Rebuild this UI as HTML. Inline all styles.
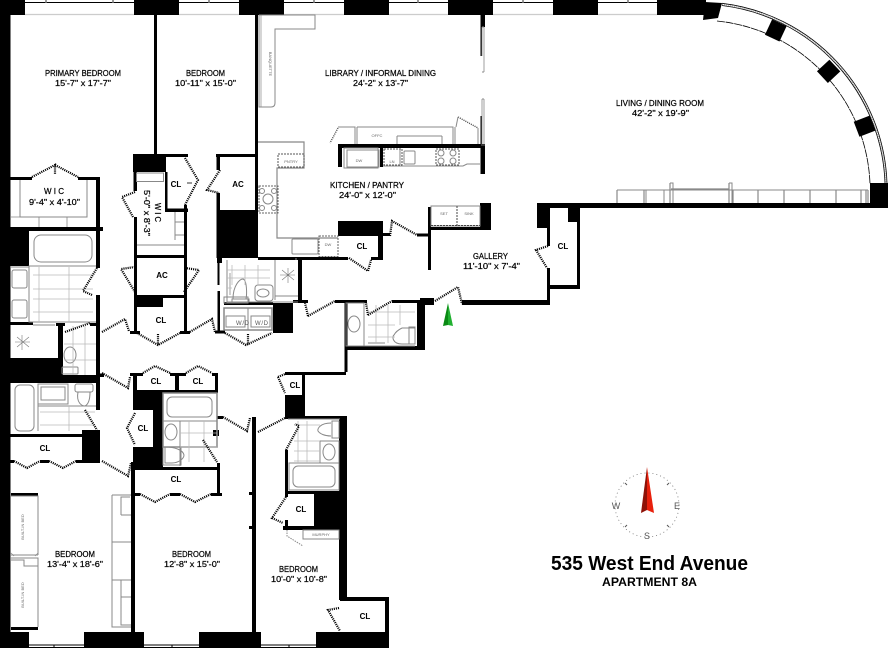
<!DOCTYPE html>
<html><head><meta charset="utf-8"><style>
html,body{margin:0;padding:0;background:#fff}
svg{display:block}
text{font-family:"Liberation Sans",sans-serif;fill:#000}
.l{font-size:8px;stroke:#000;stroke-width:.22}
.c{font-size:8px;font-weight:bold;text-anchor:middle}
.s{font-size:4px;fill:#666;text-anchor:middle}
.g{fill:none;stroke:#888;stroke-width:1}
.gf{fill:#fff;stroke:#888;stroke-width:1}
.t{fill:none;stroke:#bbb;stroke-width:.8}
.d{fill:none;stroke:#000;stroke-width:2.2;stroke-dasharray:1.1 1}
.a{fill:none;stroke:#000;stroke-width:.8}
</style></head><body>
<svg width="888" height="648" viewBox="0 0 888 648" xmlns="http://www.w3.org/2000/svg">
<rect width="888" height="648" fill="#fff"/>

<!-- black walls -->
<path fill="#000" d="
M0 0H25V15H0Z M134 0H179V15H134Z M239 0H284V15H239Z M344 0H389V15H344Z M448 0H493V15H448Z M553 0H598V15H553Z M657 0H706V15H657Z
M0 0H10.500V648H0Z
M154 15H157V155H154Z M255 15H258V215H255Z
M133 154H166V172H133Z M166 154H188V157H166Z M216 154H258V157H216Z
M165 172H167.500V212H165Z M165 208.500H188V212H165Z M184 205H187V257H184Z
M133.500 172H137V191H133.500Z M134 217H137V257H134Z
M216.500 154H220V170H216.500Z M216.500 193H220V258H216.500Z M218 210H258V258H218Z
M217 258H222V263H217Z M217.500 263H219.500V285H217.500Z M217.500 291H220V333H217.500Z M215 330.500H225V333.500H215Z
M10 177H32V180H10Z M78 177H100V180H78Z M96 177H100V268H96Z
M10 227H103V231H10Z M0 231H29V266H0Z
M96 295H100V375H96Z M56 323H65V326H56Z M90 323H100V326H90Z M58 323H63V375H58Z M10 322H33V325H10Z
M0 358H58V383H0Z M58 375H100V383H58Z M100 373.500H104V377H100Z
M96 383H100V410H96Z M96 430H100V434H96Z M82 430H100V462H82Z M10 434H100V437H10Z
M10 460H14V463H10Z M40 460H49V463H40Z M76 460H100V463H76Z
M11 493H38V496H11Z M11 627H38V630H11Z
M131 462H135V632H131Z
M0 632H29V648H0Z M84 632H144V648H84Z M199 632H261V648H199Z M316 632H389V648H316Z
M130 331H140V334H130Z M180 331H190V334H180Z M134 257H137V333H134Z M184 257H187V333H184Z M134 255H187V258H134Z
M135 295H163V307H135Z M163 295H186V298H163Z
M130 373H143V376H130Z M170 373H186V376H170Z M212 373H218V376H212Z M133 373H137V410H133Z M215 373H218V393H215Z M175 376H179V390H175Z
M133 390H218V393H133Z M133 393H163V410H133Z M153 410H163V450H153Z M133 447H163V467H133Z M133 467H220V470H133Z
M217 463H220V493H217Z M213 430H219V436H213Z M217 416H223V419H217Z
M135 493H140V496H135Z M170 493H180V496H170Z M211 493H222V496H211Z
M252 417H256V648H252Z M249 492H252V495H249Z M249 526H252V529H249Z
M285 395H305V419H285Z M285 372H346V375H285Z M302 372H305V395H302Z M285 416H346V419H285Z M285 450H288V497H285Z
M288 491H346V494H288Z M314 494H346V530H314Z M283 526H340V530H283Z M285 520H288V530H285Z
M339 416H347V600H339Z M340 597H389V601H340Z M385 597H389V632H385Z
M344.500 300H347.500V372H344.500Z M345 346H425V350H345Z M417 300H425V350H417Z M420 298H434V305H420Z
M273 303H293V333H273Z M293 300H308V303H293Z M335 300H367V303H335Z M392 300H420V303H392Z
M224 302H273V305H224Z
M298 258H302V300H298Z M258 257H348V260H258Z M371 257H383V260H371Z M378 236H383V260H378Z M338 221H383V236H338Z
M383 233H390V236H383Z M417 233.500H431V236.500H417Z M428 207H431V270H428Z M431 227H491V230H431Z M480 203H491V230H480Z
M462 300H550V305H462Z M547 268H550V302H547Z M547 228H550V246H547Z M537 203H550V228H537Z M568 207H580V222H568Z M577 222H580V289H577Z M547 285H580V289H547Z
M537 203H888V208H537Z M870 183H888V203H870Z
M338 144H485V148H338Z M338 148H342V167H338Z M380 148H383V167H380Z
M480.500 15H485V27H480.500Z M480.500 27H482V56H480.500Z M480.500 116H482V146H480.500Z M480.500 146H485V174H480.500Z
M250 155H256V157H250Z M250 210H256V214H250Z
"/>
<polygon fill="#000" points="705,2 722,3 718,18 703,20"/>
<rect x="768" y="22" width="16" height="17" fill="#000" transform="rotate(25 776 30)"/>
<rect x="821" y="63" width="16" height="17" fill="#000" transform="rotate(47 829 71)"/>
<rect x="857" y="118" width="16" height="17" fill="#000" transform="rotate(69 865 126)"/>

<!-- top windows -->
<g fill="none" stroke="#000" stroke-width=".9">
<path d="M25 2.500H134M179 2.500H239M284 2.500H344M389 2.500H448M493 2.500H553M598 2.500H657"/>
<path d="M46 0V3M113 0V3M209 0V3M314 0V3M418 0V3M523 0V3M628 0V3" stroke="#777" stroke-width="1.500"/>
</g>
<path d="M25 14.500H134M179 14.500H239M284 14.500H344M389 14.500H448M493 14.500H553M598 14.500H657" stroke="#ccc" stroke-width="1.200" fill="none"/>
<!-- bottom windows -->
<path d="M29 645H84M144 645H199M261 645H316" stroke="#000" stroke-width="1" fill="none"/>
<path d="M54 645V648M172 645V648M289 645V648" stroke="#000" stroke-width="1" fill="none"/>
<path d="M29 647.500H84M144 647.500H199M261 647.500H316" stroke="#000" stroke-width="1" fill="none"/>

<!-- curved wall -->
<path class="a" stroke-dasharray="8 .7" d="M717 21 A170 170 0 0 1 870 184"/>
<path class="a" d="M722 3.300 A187.500 187.500 0 0 1 887 183"/>
<path class="a" d="M722 5.500 A185.500 185.500 0 0 1 885 183"/>
<path d="M722 4.500 A186.500 186.500 0 0 1 886 183" fill="none" stroke="#888" stroke-width=".7" stroke-dasharray="1 1"/>

<!-- living room cabinets -->
<g class="g">
<path d="M617 190H868M617 203V190M646 203V190M664 203V190"/>
<path d="M617 190V203M644 190V203M670 183V203M671 189H729M729 183V203M733 190V203M758 190V203M784 190V203M810 190V203M836 190V203M861 190V203M866 190V203M868 190V203" stroke-width="1.200"/>
<path d="M670 183H673V203M729 183H732V203" />
</g>

<!-- left bedroom fixtures -->
<g class="g">
<path d="M20 180V217H87V180"/>
<path d="M11 217H87M39 217V227M67 217V227M78 217H87" stroke-width=".8"/>
<rect x="34" y="235" width="58" height="27" rx="7"/>
<path d="M10 267H29V266H96M29 266V322H96"/>
<rect x="12" y="270" width="15" height="18" rx="2"/>
<rect x="12" y="300" width="15" height="18" rx="2"/>
<path d="M33 325H55"/>
<rect x="15" y="385" width="19" height="46" rx="5"/>
<rect x="38" y="384" width="30" height="20" stroke-width="1"/>
<rect x="41" y="387" width="24" height="13" stroke-width="1"/>
<rect x="75" y="384" width="18" height="8" rx="2"/>
<path d="M78 392C76 403 82 406 85 406C89 404 90 397 90 392"/>
<path d="M38 384V431M38 406H96"/>
<ellipse cx="70" cy="355" rx="6" ry="8" />
<rect x="62" y="367" width="16" height="7" rx="1"/>
</g>
<g class="t">
<path d="M33 275H93M33 289H93M33 299H93M33 312H93M69 267V322M39 267V322"/>
<path d="M64 344H96M64 360H96M73 326V375M85 326V375"/>
<path d="M40 412H95M40 425H95M69 406V431"/>
</g>
<g stroke="#777" stroke-width=".6" fill="none"><path d="M15 342H30M22 335V350M17 337L29 347M29 337L17 347"/></g>

<!-- WIC 2 gray -->
<g class="g"><rect x="136.500" y="173" width="27" height="8.500"/><path d="M137 245H184M175 212V240M175 235H184M175 222H184"/></g>

<!-- kitchen -->
<g class="g">
<path d="M259 15H315V29H275V103Q275 107 271 107H259V15" stroke-width="1"/>
<path d="M261 15V107" stroke-width=".7"/>
<path d="M258 142H304V168H277V238H338" stroke-width="1.200"/>
<rect x="278" y="154" width="26" height="13" stroke-dasharray="2 1" stroke="#555"/>
<rect x="259" y="186" width="19" height="27" stroke="#666" stroke-dasharray="2 1"/>
<circle cx="268" cy="199" r="5"/><circle cx="262" cy="191" r="2.500"/><circle cx="274" cy="191" r="2.500"/><circle cx="262" cy="208" r="2.500"/><circle cx="274" cy="208" r="2.500"/>
<rect x="292" y="239" width="26" height="15" rx="1"/>
<rect x="319" y="236" width="19" height="20.500" stroke="#666" stroke-dasharray="2 1"/>
<path d="M338 127H355V144M357 127V144M357 127H453V144M455 127V144M478 128V144M397 136H442M397 136V144M442 136V144"/>
<path d="M344 148H378V168H344Z"/>
<rect x="347" y="150" width="32" height="17"/>
<rect x="384" y="149" width="18" height="16" stroke-dasharray="2 1" stroke="#555"/>
<rect x="404" y="151" width="11" height="13" rx="1"/>
<rect x="436" y="149" width="23" height="16" stroke="#555" stroke-dasharray="2 1"/>
<circle cx="441" cy="153" r="3"/><circle cx="453" cy="153" r="3"/><circle cx="441" cy="161" r="3"/><circle cx="453" cy="161" r="3"/>
<path d="M383 166H463L467 164H480M400 149V165"/>
<rect x="431" y="206" width="49" height="20" stroke="#888"/>
<path d="M457 206V226" stroke-dasharray="2 1" stroke="#444"/>
<path d="M431 225.500H480" stroke-dasharray="2 1" stroke="#444"/>
<path d="M482 27V56M484 27V72M482 99V146M484 99V146" stroke-width=".8"/>
<path d="M482 27H484M482 72H484M482 99H484"/>
</g>

<!-- laundry bath -->
<g class="g">
<path d="M227 260V302H298M275 260V300M296 258V260M275 296H298"/>
<rect x="232" y="299" width="17" height="3" />
<path d="M233 299C233 285 240 279 243 279C247 280 247 294 246 299" />
<rect x="224" y="297" width="24" height="6" />
<rect x="255" y="285" width="18" height="16" rx="3"/>
<ellipse cx="263" cy="293" rx="6" ry="4"/>
<rect x="224" y="308" width="48" height="22" stroke-width="1.500"/>
<rect x="226" y="316" width="19" height="11"/>
<rect x="251" y="316" width="19" height="11"/>
<path d="M248 308V330M248 309"/>
<path d="M230 273V295" stroke-width=".8"/>
</g>
<g class="t"><path d="M227 270H270M227 278H270M227 288H232M232 265V285M245 265V285M258 265V285"/></g>
<g stroke="#777" stroke-width=".6" fill="none"><path d="M280 275H295M288 268V283M282 270L294 280M294 270L282 280"/></g>
<text x="236" y="325" font-size="6" style="fill:#555" textLength="13">W/D</text>
<text x="255" y="325" font-size="6" style="fill:#555" textLength="13">W/D</text>

<!-- middle bath -->
<g class="g">
<rect x="163" y="393" width="54" height="54" stroke-width="1.500"/>
<rect x="167" y="397" width="45" height="20" rx="5"/>
<path d="M163 421H217M180 421V466M163 447H180"/>
<ellipse cx="171" cy="432" rx="6" ry="8"/>
<rect x="163" y="447" width="18" height="18" />
<path d="M165 447V463H172C178 463 184 459 184 455C183 450 175 447 165 447"/>
</g>
<g class="t"><path d="M189 421V462M204 421V462M180 433H217M180 447H217"/></g>

<!-- right lower bath -->
<g class="g">
<path d="M288 419H340"/>
<rect x="332" y="421" width="7" height="17"/>
<path d="M331 423C320 423 317 429 318 431C320 434 325 436 331 436"/>
<rect x="320" y="441" width="19" height="22" />
<ellipse cx="329" cy="452" rx="6" ry="8"/>
<rect x="289" y="463" width="50" height="27" />
<rect x="293" y="466" width="42" height="21" rx="5"/>
<path d="M289 463H339"/>
</g>
<g class="t"><path d="M294 425H320M294 441H320M294 451H320M294 461H320M298 421V463M307 421V463"/></g>

<!-- upper bath -->
<g class="g">
<rect x="346" y="303" width="18" height="43"/>
<ellipse cx="354" cy="324" rx="6" ry="8"/>
<path d="M368 343H385M402 328H415V344H402C392 344 392 336 394 335C396 331 400 329 402 328"/>
<rect x="409" y="327" width="6" height="17"/>
<path d="M364 303V346H415"/>
</g>
<g class="t"><path d="M368 312H415M368 325H395M368 337H395M376 305V343M388 305V343M400 305V325"/></g>

<!-- bedroom 3 closets -->
<g class="g"><rect x="303" y="530" width="36" height="9"/></g>
<path d="M287 530V536L303 546" class="g" stroke-dasharray="1.500 1"/>

<!-- left bedroom built ins -->
<g class="g">
<path d="M11 496H38V555M11 555H38M11 558H38V627M11 560H24V566H38" />
<path d="M11 553L14 556M38 553L35 556" stroke-width=".7"/>
<path d="M112 495H131M112 495V627H131M112 542H131M112 580H131M130 497H121V515M121 515H131M121 580V625H131M121 597H131" />
</g>
<g fill="none" stroke="#888" stroke-width=".8" stroke-dasharray="2 1"><path d="M121 497V515M121 580V622"/></g>

<!-- doors -->
<g class="d">
<path d="M32 177L55 165L55 174M55 165L78 177"/>
<path d="M185 158L198 180L185 205"/>
<path d="M220 170L207 190L219 193"/>
<path d="M135 192L122 197L133 217"/>
<path d="M135 292L121 269L135 267"/>
<path d="M184 292L199 270L185 268"/>
<path d="M137 333L158 345L180 333M158 334V345"/>
<path d="M188 333L212 319L215 332"/>
<path d="M225 333L246 345L272 333M248 334V345"/>
<path d="M102 332L125 319L129 331"/>
<path d="M97 268L83 291L92 295"/>
<path d="M65 332L90 323"/>
<path d="M85 410L97 430"/>
<path d="M102 373L128 388L130 377"/>
<path d="M143 373L155 366L170 373"/>
<path d="M186 373L198 366L212 373"/>
<path d="M135 413L127 428L135 445"/>
<path d="M223 417L247 431L250 418"/>
<path d="M258 432L287 417"/>
<path d="M14 461L27 468L40 461"/>
<path d="M49 461L63 468L76 461"/>
<path d="M102 461L128 476L131 463"/>
<path d="M140 494L155 502L170 494"/>
<path d="M180 494L195 502L211 494"/>
<path d="M203 440L217 462"/>
<path d="M286 497L272 518L283 523"/>
<path d="M286 450L299 426L295 424"/>
<path d="M339 608L328 610L340 631"/>
<path d="M278 377L285 393M278 377L285 374"/>
<path d="M308 316L335 301M308 316L305 303"/>
<path d="M368 315L392 301M368 315L366 303"/>
<path d="M435 301L458 287L462 304"/>
<path d="M349 258L368 271L371 260"/>
<path d="M390 236L392 221L417 235"/>
<path d="M548 246L536 250L547 268"/>
<path d="M338 128L330 143" stroke-width="1.400" stroke="#555"/>
<path d="M458 117L478 128" stroke-width="1.400" stroke="#555"/>
<path d="M458 117L456 127" stroke="#888" stroke-width="1" stroke-dasharray="none"/>
</g>
<g stroke="#000" stroke-width=".8"><path d="M187 183H192"/></g>

<!-- labels -->
<text class="l" x="45" y="76" textLength="76" lengthAdjust="spacingAndGlyphs">PRIMARY BEDROOM</text>
<text class="l" x="55" y="86" textLength="56" lengthAdjust="spacingAndGlyphs">15'-7" x 17'-7"</text>
<text class="l" x="186" y="76" textLength="39" lengthAdjust="spacingAndGlyphs">BEDROOM</text>
<text class="l" x="175" y="86" textLength="61" lengthAdjust="spacingAndGlyphs">10'-11" x 15'-0"</text>
<text class="l" x="325" y="76" textLength="111" lengthAdjust="spacingAndGlyphs">LIBRARY / INFORMAL DINING</text>
<text class="l" x="353" y="86" textLength="55" lengthAdjust="spacingAndGlyphs">24'-2" x 13'-7"</text>
<text class="l" x="616" y="106" textLength="88" lengthAdjust="spacingAndGlyphs">LIVING / DINING ROOM</text>
<text class="l" x="632" y="116" textLength="57" lengthAdjust="spacingAndGlyphs">42'-2" x 19'-9"</text>
<text class="l" x="330" y="188" textLength="74" lengthAdjust="spacingAndGlyphs">KITCHEN / PANTRY</text>
<text class="l" x="339" y="198" textLength="57" lengthAdjust="spacingAndGlyphs">24'-0" x 12'-0"</text>
<text class="l" x="473" y="259" textLength="35" lengthAdjust="spacingAndGlyphs">GALLERY</text>
<text class="l" x="463" y="269" textLength="57" lengthAdjust="spacingAndGlyphs">11'-10" x 7'-4"</text>
<text class="l" x="44" y="194" textLength="20" lengthAdjust="spacingAndGlyphs">W I C</text>
<text class="l" x="29" y="205" textLength="51" lengthAdjust="spacingAndGlyphs">9'-4" x 4'-10"</text>
<text class="l" transform="translate(155 203) rotate(90)" textLength="19" lengthAdjust="spacingAndGlyphs">W I C</text>
<text class="l" transform="translate(144 190) rotate(90)" textLength="46" lengthAdjust="spacingAndGlyphs">5'-0" x 8'-3"</text>
<text class="l" x="55" y="557" textLength="40" lengthAdjust="spacingAndGlyphs">BEDROOM</text>
<text class="l" x="47" y="567" textLength="56" lengthAdjust="spacingAndGlyphs">13'-4" x 18'-6"</text>
<text class="l" x="172" y="557" textLength="39" lengthAdjust="spacingAndGlyphs">BEDROOM</text>
<text class="l" x="164" y="567" textLength="56" lengthAdjust="spacingAndGlyphs">12'-8" x 15'-0"</text>
<text class="l" x="279" y="572" textLength="39" lengthAdjust="spacingAndGlyphs">BEDROOM</text>
<text class="l" x="271" y="582" textLength="56" lengthAdjust="spacingAndGlyphs">10'-0" x 10'-8"</text>

<text class="c" x="176" y="187">CL</text>
<text class="c" x="238" y="187">AC</text>
<text class="c" x="162" y="278">AC</text>
<text class="c" x="161" y="323">CL</text>
<text class="c" x="156" y="384">CL</text>
<text class="c" x="198" y="384">CL</text>
<text class="c" x="143" y="431">CL</text>
<text class="c" x="45" y="451">CL</text>
<text class="c" x="176" y="482">CL</text>
<text class="c" x="295" y="388">CL</text>
<text class="c" x="362" y="249">CL</text>
<text class="c" x="563" y="249">CL</text>
<text class="c" x="301" y="512">CL</text>
<text class="c" x="365" y="619">CL</text>

<text class="s" transform="translate(269 64) rotate(90)">BANQUETTE</text>
<text class="s" x="377" y="137">OFFC</text>
<text class="s" x="359" y="162">DW</text>
<text class="s" x="392" y="163">LN</text>
<text class="s" x="291" y="163">PNTRY</text>
<text class="s" x="328" y="246">DW</text>
<text class="s" x="444" y="215">SET</text>
<text class="s" x="469" y="215">SINK</text>
<text class="s" x="321" y="536">MURPHY</text>
<text class="s" transform="translate(24 527) rotate(-90)">BUILT-IN BED</text>
<text class="s" transform="translate(24 595) rotate(-90)">BUILT-IN BED</text>

<!-- green arrow -->
<polygon points="448,303 443,326 448,325" fill="#0a8a14"/>
<polygon points="448,303 453,326 448,325" fill="#20b030"/>

<!-- compass -->
<circle cx="647" cy="505" r="32" fill="none" stroke="#777" stroke-width=".8" stroke-dasharray="1 3"/>
<path d="M625 483L627 485M669 483L667 485M625 527L627 525M669 527L667 525" stroke="#555" stroke-width="1"/>
<polygon points="647,467 641,513 647,510" fill="#8e1208"/>
<polygon points="647,467 654,513 647,510" fill="#e8200c"/>
<text x="616" y="509" font-size="9" text-anchor="middle" style="fill:#555">W</text>
<text x="677" y="509" font-size="9" text-anchor="middle" style="fill:#555">E</text>
<text x="647" y="539" font-size="9" text-anchor="middle" style="fill:#555">S</text>

<text x="551" y="570" font-size="20" font-weight="bold" textLength="197" lengthAdjust="spacingAndGlyphs">535 West End Avenue</text>
<text x="602" y="586" font-size="12" font-weight="bold" textLength="95" lengthAdjust="spacingAndGlyphs">APARTMENT 8A</text>
</svg>
</body></html>
